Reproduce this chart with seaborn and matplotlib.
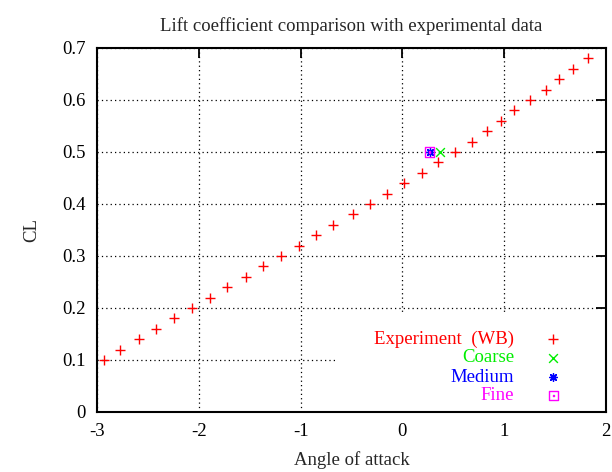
import matplotlib
matplotlib.use("Agg")
import matplotlib.pyplot as plt
from matplotlib.patches import Rectangle
from matplotlib.path import Path
import numpy as np
import pandas as pd
import seaborn as sns

# Wind-tunnel measurements (WB configuration)
exp_alpha = [-2.93, -2.77, -2.59, -2.42, -2.24, -2.07, -1.89, -1.72, -1.54, -1.37,
             -1.19, -1.02, -0.85, -0.68, -0.49, -0.32, -0.15, 0.02, 0.19, 0.35,
             0.52, 0.68, 0.83, 0.97, 1.10, 1.25, 1.41, 1.54, 1.68, 1.82]
exp_cl = [0.10, 0.12, 0.14, 0.16, 0.18, 0.20, 0.22, 0.24, 0.26, 0.28,
          0.30, 0.32, 0.34, 0.36, 0.38, 0.40, 0.42, 0.44, 0.46, 0.48,
          0.50, 0.52, 0.54, 0.56, 0.58, 0.60, 0.62, 0.64, 0.66, 0.68]

# CFD results on three grid levels
mesh_names = ["Coarse", "Medium", "Fine"]
mesh_alpha = [0.37, 0.275, 0.27]
mesh_cl = [0.50, 0.50, 0.50]

x_ticks = [-3, -2, -1, 0, 1, 2]
y_ticks = [0, 0.1, 0.2, 0.3, 0.4, 0.5, 0.6, 0.7]

sns.set_style("white")
plt.rcParams["font.family"] = ["Liberation Serif", "DejaVu Serif"]

fig = plt.figure(figsize=(6.12, 4.72), dpi=100)
ax = fig.add_axes([97 / 612, 60 / 472, 509 / 612, 364 / 472])

# square with a centre dot, as used by the fine-mesh point
boxdot = Path(
    [(-1, -1), (1, -1), (1, 1), (-1, 1), (-1, -1),
     (-0.12, -0.12), (0.12, -0.12), (0.12, 0.12), (-0.12, 0.12), (-0.12, -0.12)],
    [Path.MOVETO, Path.LINETO, Path.LINETO, Path.LINETO, Path.CLOSEPOLY,
     Path.MOVETO, Path.LINETO, Path.LINETO, Path.LINETO, Path.CLOSEPOLY],
)

exp_df = pd.DataFrame({"alpha": exp_alpha, "CL": exp_cl})
sns.scatterplot(data=exp_df, x="alpha", y="CL", ax=ax, marker="+", s=44,
                color="#ff0000", linewidth=1.0, label="Experiment  (WB)", zorder=3)

mesh_style = {
    "Coarse": dict(marker="x", color="#00ee00", s=40),
    "Medium": dict(marker=(8, 2, 0), color="#0000ff", s=30),
    "Fine": dict(marker=boxdot, color="#ff00ff", s=42),
}
for name, a, c in zip(mesh_names, mesh_alpha, mesh_cl):
    st = mesh_style[name]
    df = pd.DataFrame({"alpha": [a], "CL": [c]})
    if name == "Fine":
        sns.scatterplot(data=df, x="alpha", y="CL", ax=ax, marker=st["marker"], s=st["s"],
                        facecolors="none", edgecolor=st["color"], linewidth=1.0,
                        label=name, zorder=3)
    else:
        sns.scatterplot(data=df, x="alpha", y="CL", ax=ax, marker=st["marker"], s=st["s"],
                        color=st["color"], linewidth=1.0, label=name, zorder=3)

ax.set_xlim(-3, 2)
ax.set_ylim(0, 0.7)
ax.set_xticks(x_ticks)
ax.set_yticks(y_ticks)
ax.set_xticklabels([f"{t:g}" for t in x_ticks])
ax.set_yticklabels([f"{t:g}" for t in y_ticks])

ax.set_axisbelow(True)
ax.grid(True, color="black", linestyle=(0, (1, 2.5)), linewidth=0.9)

# blank area behind the key
ax.add_patch(Rectangle((0.468, 0.005), 0.53, 0.265, transform=ax.transAxes,
                       facecolor="white", edgecolor="none", zorder=1))

for sp in ax.spines.values():
    sp.set_color("black")
    sp.set_linewidth(1.5)
    sp.set_zorder(4)
ax.tick_params(direction="in", length=7, width=1.3, top=True, right=True,
               labelsize=13.5, colors="black", pad=8)

ax.set_xlabel("Angle of attack", fontsize=13.5, labelpad=8)
ax.set_ylabel("CL", fontsize=13.5, labelpad=16)
ax.set_title("Lift coefficient comparison with experimental data", fontsize=13.5, pad=12)

leg = ax.legend(loc="lower right", bbox_to_anchor=(0.930, 0.0), markerfirst=False,
                frameon=False, fontsize=13.5, handletextpad=1.6, labelspacing=0.1,
                labelcolor=["#ff0000", "#00ee00", "#0000ff", "#ff00ff"],
                handlelength=1.0, borderaxespad=0.0)
leg.set_zorder(5)

fig.savefig("out.png", dpi=100)
